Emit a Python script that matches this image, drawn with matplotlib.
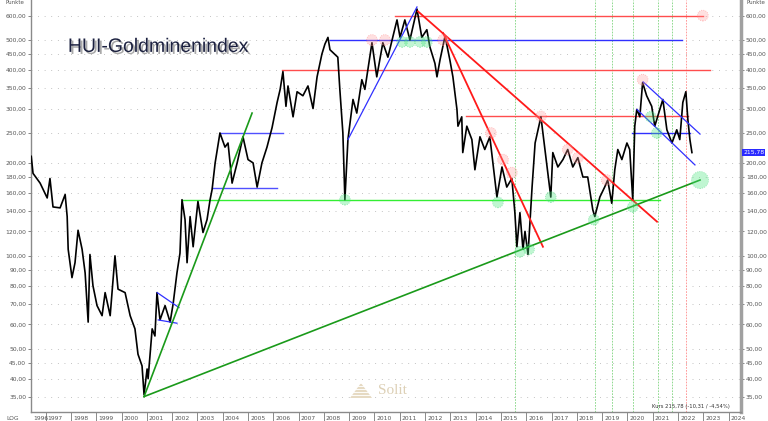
import numpy as np
import matplotlib.pyplot as plt
import matplotlib.patheffects as pe
from matplotlib.ticker import NullLocator
from matplotlib.transforms import blended_transform_factory

# HUI price path (year, points)
years = [1996.43, 1996.50, 1996.78, 1997.06, 1997.17, 1997.29, 1997.57, 1997.77, 1997.85, 1997.89,
         1997.96, 1998.04, 1998.16, 1998.28, 1998.44, 1998.56, 1998.68, 1998.75, 1998.87, 1999.03,
         1999.23, 1999.35, 1999.55, 1999.74, 1999.86, 2000.14, 2000.34, 2000.53, 2000.65, 2000.81,
         2000.89, 2001.01, 2001.05, 2001.21, 2001.32, 2001.40, 2001.52, 2001.72, 2001.92, 2002.04,
         2002.19, 2002.31, 2002.39, 2002.51, 2002.59, 2002.71, 2002.83, 2003.02, 2003.22, 2003.38,
         2003.50, 2003.58, 2003.70, 2003.89, 2004.09, 2004.21, 2004.37, 2004.57, 2004.80, 2005.00,
         2005.20, 2005.36, 2005.55, 2005.75, 2005.95, 2006.15, 2006.27, 2006.38, 2006.50, 2006.58,
         2006.78, 2006.94, 2007.17, 2007.37, 2007.57, 2007.73, 2007.92, 2008.04, 2008.16, 2008.24,
         2008.55, 2008.63, 2008.75, 2008.83, 2008.95, 2009.15, 2009.30, 2009.50, 2009.62, 2009.90,
         2010.09, 2010.33, 2010.53, 2010.89, 2011.01, 2011.20, 2011.40, 2011.68, 2011.87, 2012.07,
         2012.19, 2012.39, 2012.47, 2012.59, 2012.79, 2012.98, 2013.10, 2013.26, 2013.30, 2013.45,
         2013.49, 2013.65, 2013.85, 2013.97, 2014.17, 2014.36, 2014.56, 2014.84, 2015.04, 2015.23,
         2015.43, 2015.55, 2015.63, 2015.75, 2015.87, 2015.95, 2016.07, 2016.23, 2016.35, 2016.58,
         2016.74, 2016.85, 2016.97, 2017.05, 2017.25, 2017.45, 2017.64, 2017.84, 2018.04, 2018.24,
         2018.43, 2018.63, 2018.71, 2018.91, 2019.10, 2019.22, 2019.38, 2019.50, 2019.62, 2019.78,
         2019.98, 2020.09, 2020.21, 2020.29, 2020.37, 2020.49, 2020.60, 2020.76, 2020.96, 2021.08,
         2021.28, 2021.40, 2021.56, 2021.76, 2021.95, 2022.07, 2022.19, 2022.31, 2022.39, 2022.47,
         2022.55]
prices = [210, 185, 172, 154, 178, 144, 143, 158, 134, 105,
          95, 85, 95, 121, 105, 88, 61, 101, 80, 69,
          64, 76, 64, 100, 78, 76, 64, 58, 48, 44,
          35.5, 43, 40, 58, 55, 76, 62, 69, 61, 70,
          88, 102, 152, 131, 95, 134, 107, 150, 119, 131,
          152, 164, 200, 250, 225, 232, 172, 200, 243, 205,
          200, 167, 200, 225, 260, 314, 346, 395, 305, 355,
          282, 340, 330, 355, 300, 380, 450, 485, 510, 465,
          440, 346, 250, 152, 238, 321, 290, 372, 346, 490,
          380, 490, 440, 581, 510, 581, 500, 630, 510, 540,
          475, 420, 380, 431, 515, 431, 380, 298, 263, 282,
          216, 263, 238, 190, 243, 221, 243, 155, 194, 167,
          178, 138, 107, 138, 105, 120, 101, 167, 232, 282,
          221, 186, 155, 216, 194, 205, 221, 194, 208, 180,
          180, 141, 134, 155, 167, 176, 148, 190, 221, 205,
          232, 221, 152, 263, 298, 282, 364, 330, 305, 263,
          298, 321, 256, 232, 256, 238, 314, 340, 276, 238,
          216]

ytick_vals = [35, 40, 45, 50, 60, 70, 80, 90, 100, 120, 140, 160, 180, 200, 250, 300, 350, 400, 450, 500, 600]
year_ticks = list(range(1997, 2025))

# horizontal support/resistance lines: (start, end, level, colour)
hlines = [(2010.81, 2022.98, 600, '#ff4d4d'),
          (2008.24, 2022.15, 500, '#3030ff'),
          (2006.35, 2023.26, 400, '#ff4d4d'),
          (2013.61, 2022.39, 283, '#ff4d4d'),
          (2003.89, 2006.38, 250, '#5050ff'),
          (2003.58, 2006.15, 166, '#5050ff'),
          (2002.39, 2021.28, 152, '#33ee33'),
          (2020.18, 2022.47, 250, '#3030ff')]

# trend lines: (x0, y0, x1, y1, colour, width)
tlines = [(2011.72, 619, 2021.17, 129, '#ff1a1a', 1.3),
          (2012.71, 527, 2016.66, 107, '#ff1a1a', 1.3),
          (2008.95, 238, 2011.68, 640, '#3030ff', 0.9),
          (2001.41, 76, 2002.27, 68, '#3030ff', 0.9),
          (2001.45, 62, 2002.19, 60.5, '#3030ff', 0.9),
          (2020.62, 366, 2022.87, 248, '#3030ff', 0.9),
          (2020.38, 298, 2022.67, 197, '#3030ff', 0.9),
          (2000.89, 35, 2005.16, 290, '#1a9a1a', 1.2),
          (2000.89, 35, 2022.87, 176, '#1a9a1a', 1.2)]

# vertical dotted markers
vgreen = [2015.55, 2018.71, 2019.38, 2020.22, 2021.21, 2021.76]
vred = [2022.31]

# circle markers
pink_x = [2009.90, 2010.41, 2012.71, 2014.60, 2015.08, 2015.43, 2016.58, 2017.64, 2018.04, 2019.18, 2020.60, 2022.98]
pink_y = [500, 500, 500, 250, 205, 186, 283, 221, 208, 176, 372, 600]
green_x = [2008.83, 2011.09, 2011.40, 2011.80, 2012.07, 2014.88, 2015.75, 2016.11, 2016.97, 2018.67, 2020.21, 2021.16, 2020.92]
green_y = [152, 493, 493, 493, 493, 149, 103, 105, 155, 131, 144, 250, 282]

fig = plt.figure(figsize=(7.68, 4.21), dpi=100)
ax = fig.add_axes([31 / 768, 9 / 421, 710 / 768, 412 / 421])
ax.set_yscale('log')
ax.set_xlim(1996.42, 2024.49)
ax.set_ylim(31.2, 674)

# dotted grid rows
for v in ytick_vals:
    ax.axhline(v, color='#b5b5b5', lw=0.7, ls=(0, (0.8, 6)), zorder=0)

for x in vgreen:
    ax.axvline(x, color='#7fd47f', lw=0.6, ls=(0, (2, 1.5)), zorder=1)
for x in vred:
    ax.axvline(x, color='#ff8c8c', lw=0.6, ls=(0, (2, 1.5)), zorder=1)

for x0, x1, lvl, c in hlines:
    ax.plot([x0, x1], [lvl, lvl], color=c, lw=1.0, zorder=3)

ax.plot(years, prices, color='black', lw=1.2, zorder=4)

for x0, y0, x1, y1, c, w in tlines:
    ax.plot([x0, x1], [y0, y1], color=c, lw=w, zorder=5)

ax.scatter(pink_x, pink_y, s=60, facecolor=(1, 0.6, 0.6, 0.3), edgecolor=(1, 0.5, 0.5, 0.6),
           linewidths=0.6, linestyle=':', zorder=6)
ax.scatter(green_x, green_y, s=60, facecolor=(0.3, 0.9, 0.5, 0.35), edgecolor=(0.3, 0.85, 0.5, 0.6),
           linewidths=0.6, linestyle=':', zorder=6)
ax.scatter([2022.87], [176], s=150, facecolor=(0.3, 0.9, 0.5, 0.35), edgecolor=(0.3, 0.85, 0.5, 0.6),
           linewidths=0.6, linestyle=':', zorder=6)

# axes styling
ax.spines['top'].set_visible(False)
ax.spines['left'].set_color('#8a8a8a')
ax.spines['left'].set_linewidth(1.0)
ax.spines['right'].set_color('#a0a0a0')
ax.spines['right'].set_linewidth(2.5)
ax.spines['bottom'].set_color('#8a8a8a')
ax.spines['bottom'].set_linewidth(1.0)

ax.yaxis.set_minor_locator(NullLocator())
ax.set_yticks(ytick_vals)
ax.set_yticklabels([f'{v:.2f}'.replace('.', ',') for v in ytick_vals])
ax.tick_params(axis='y', which='both', left=True, right=True, labelleft=True, labelright=True,
               direction='out', length=2, width=0.5, pad=1.5, labelsize=4.3,
               colors='#555555')

ax.xaxis.set_minor_locator(NullLocator())
ax.set_xticks(year_ticks)
ax.set_xticklabels([])
ax.tick_params(axis='x', direction='out', length=9, width=0.6, colors='#777777')
bt = blended_transform_factory(ax.transData, fig.transFigure)
for y in year_ticks:
    ax.text(y + 0.08, 0.5 / 421, str(y), transform=bt, fontsize=4.3, color='#555555',
            ha='left', va='bottom')
ax.text(1996.50, 0.5 / 421, '1996', transform=bt, fontsize=4.3, color='#555555', ha='left', va='bottom')

fig.text(13 / 768, 0.5 / 421, 'LOG', fontsize=4.3, color='#555555', ha='center', va='bottom')
fig.text(15 / 768, 1 - 3 / 421, 'Punkte', fontsize=4, color='#555555', ha='center', va='center')
fig.text(756 / 768, 1 - 3 / 421, 'Punkte', fontsize=4, color='#555555', ha='center', va='center')

# last price tag on right axis
ax.text(1.003, 215.78, '215,78', transform=blended_transform_factory(ax.transAxes, ax.transData),
        fontsize=4.3, color='white', ha='left', va='center',
        bbox=dict(boxstyle='square,pad=0.15', fc='#2a2aff', ec='none'))

ax.text(0.985, 0.008, 'Kurs 215,78 (-10,31 / -4,54%)', transform=ax.transAxes, fontsize=3.8,
        color='#333333', ha='right', va='bottom')

# title with shadow
ax.text(0.052, 0.885, 'HUI-Goldminenindex', transform=ax.transAxes, fontsize=14,
        family='Liberation Sans', color='#1c2140', ha='left', va='center',
        path_effects=[pe.withSimplePatchShadow(offset=(1.5, -1.5), shadow_rgbFace='#555555', alpha=0.5)])

# Solit watermark
logo_x, logo_y, logo_w, logo_h = 350 / 768, 1 - 398 / 421, 22 / 768, 15 / 421
for k in range(5):
    frac0 = k / 5
    frac1 = (k + 0.7) / 5
    w0 = logo_w * (1 - frac0)
    w1 = logo_w * (1 - frac1)
    cx = logo_x + logo_w / 2
    yb = logo_y + logo_h * frac0
    yt = logo_y + logo_h * frac1
    fig.patches.append(plt.Polygon([[cx - w0 / 2, yb], [cx + w0 / 2, yb], [cx + w1 / 2, yt], [cx - w1 / 2, yt]],
                                   closed=True, transform=fig.transFigure, fc='#e6dac3', ec='none'))
fig.text(378 / 768, 1 - 391 / 421, 'Solit', fontsize=11, family='Liberation Serif', color='#ddd0b6',
         ha='left', va='center')

plt.savefig('out.png', dpi=100)
